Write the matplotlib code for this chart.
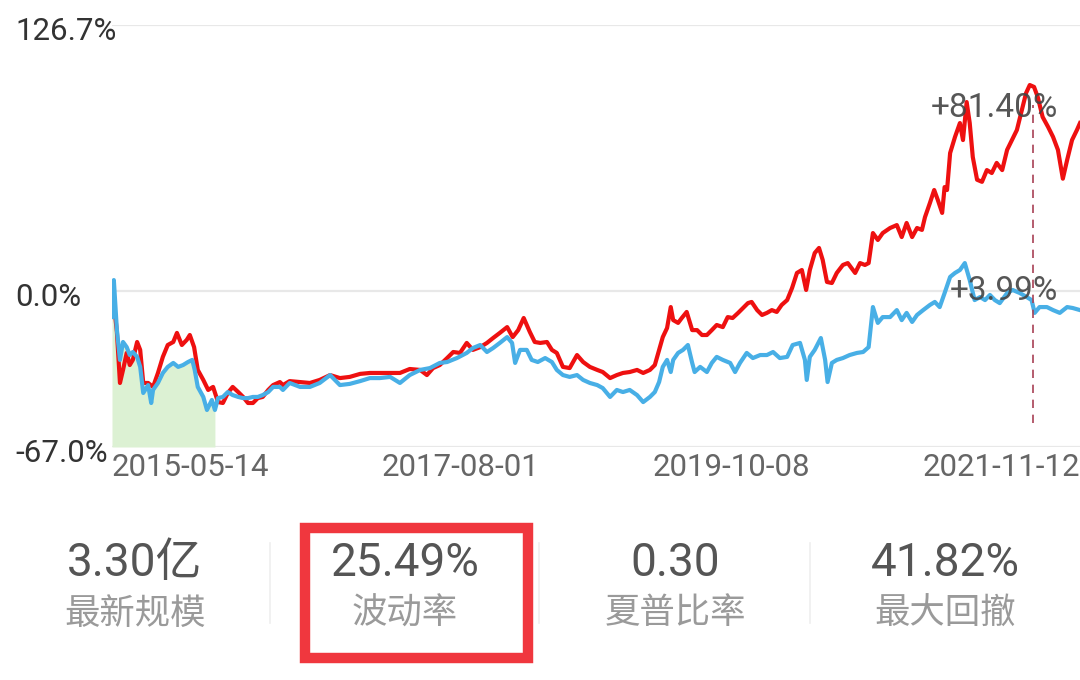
import numpy as np
import matplotlib
matplotlib.use("Agg")
import matplotlib.pyplot as plt
import matplotlib.transforms as mtransforms
from matplotlib.patches import Rectangle

plt.rcParams['font.family'] = ['Roboto', 'Noto Sans CJK SC', 'DejaVu Sans']

# 1. Dane (dzien handlowy, zwrot w %)
fund_days = [0, 3, 8, 13, 18, 24, 29, 34, 41, 46, 51, 59, 67, 75, 83, 91, 100, 106, 114, 122,
             127, 134, 140, 149, 157, 165, 173, 181, 189, 197, 206, 214, 222, 230, 238, 246, 255, 263, 274, 279,
             290, 307, 323, 339, 356, 372, 388, 405, 421, 437, 454, 470, 486, 503, 514, 524, 535, 547, 557, 568,
             579, 589, 601, 612, 622, 633, 645, 654, 663, 672, 682, 690, 699, 710, 718, 726, 736, 747, 759, 769,
             780, 792, 801, 813, 824, 834, 845, 857, 867, 878, 886, 893, 899, 906, 912, 916, 924, 930, 938, 947,
             955, 963, 971, 979, 987, 997, 1005, 1013, 1022, 1030, 1038, 1044, 1053, 1061, 1069, 1077, 1085, 1093, 1102, 1110,
             1118, 1126, 1133, 1139, 1147, 1154, 1160, 1167, 1175, 1183, 1193, 1201, 1213, 1221, 1229, 1235, 1242, 1250, 1258, 1270,
             1281, 1289, 1297, 1306, 1314, 1322, 1327, 1335, 1342, 1348, 1355, 1359, 1363, 1368, 1373, 1376, 1384, 1389, 1395, 1400,
             1405, 1412, 1420, 1428, 1436, 1444, 1453, 1461, 1469, 1477, 1485, 1492, 1498, 1505, 1511, 1519, 1528, 1536, 1544, 1552,
             1559, 1567, 1575, 1580]
fund_ret = [-8.2, -5.2, -17.6, -39.5, -33.9, -26.6, -31.8, -29.6, -21.9, -25.3, -39.5, -39.5, -41.2, -35.2, -28.3, -23.2, -21.9, -18.0, -23.2, -21.0,
            -18.9, -24.1, -33.9, -38.2, -42.5, -41.2, -47.7, -48.1, -43.8, -41.2, -43.4, -45.5, -48.1, -48.1, -46.0, -45.5, -42.5, -40.4, -39.1, -40.4,
            -38.7, -39.1, -39.5, -38.2, -36.1, -37.4, -36.9, -35.6, -35.2, -35.2, -35.2, -35.2, -33.5, -33.9, -36.1, -33.1, -31.8, -28.8, -26.2, -26.6,
            -22.3, -25.3, -24.1, -22.3, -20.2, -18.0, -15.5, -19.8, -16.8, -11.6, -17.6, -21.9, -22.3, -21.9, -25.3, -26.6, -32.6, -33.1, -27.5, -30.5,
            -32.6, -33.9, -34.8, -37.4, -36.1, -35.2, -34.8, -33.9, -35.2, -33.9, -31.8, -25.3, -19.8, -15.9, -6.9, -12.5, -13.7, -11.6, -9.0, -16.8,
            -16.8, -18.9, -18.9, -16.8, -14.6, -15.5, -11.2, -11.6, -9.4, -7.3, -5.2, -4.7, -8.2, -10.3, -9.4, -8.2, -9.0, -6.0, -3.9, 1.4,
            8.6, 10.0, 0.5, 10.0, 18.1, 20.5, 14.8, 4.3, 3.8, 8.6, 12.4, 13.3, 8.6, 13.3, 12.4, 13.3, 27.6, 24.3, 27.6, 30.0,
            31.4, 25.7, 32.4, 25.7, 30.0, 29.1, 35.2, 41.9, 48.1, 43.3, 37.2, 49.5, 48.1, 65.7, 70.5, 73.4, 80.0, 71.9, 90.0, 80.0,
            63.8, 53.0, 52.0, 57.6, 56.2, 61.0, 57.6, 67.2, 71.9, 76.7, 86.2, 94.3, 98.1, 97.2, 92.4, 82.9, 78.1, 73.4, 67.2, 53.5,
            62.4, 71.9, 76.7, 80.0]

bench_days = [0, 3, 8, 13, 18, 24, 29, 34, 41, 46, 51, 59, 64, 67, 75, 83, 91, 100, 108, 116,
              124, 131, 135, 140, 149, 155, 163, 168, 173, 181, 189, 197, 206, 214, 222, 230, 238, 246, 255, 263,
              274, 279, 290, 307, 323, 339, 356, 372, 388, 405, 421, 437, 454, 470, 486, 503, 519, 535, 547, 563,
              579, 589, 601, 612, 622, 633, 645, 653, 658, 666, 677, 685, 695, 707, 718, 726, 736, 747, 759, 769,
              780, 792, 801, 813, 824, 834, 845, 857, 867, 878, 886, 893, 899, 906, 912, 916, 924, 932, 940, 947,
              951, 960, 971, 979, 987, 997, 1009, 1017, 1025, 1036, 1046, 1058, 1069, 1079, 1090, 1102, 1111, 1123, 1131, 1134,
              1139, 1147, 1157, 1164, 1168, 1175, 1183, 1193, 1204, 1216, 1226, 1235, 1242, 1250, 1258, 1270, 1281, 1289, 1297, 1306,
              1314, 1324, 1335, 1343, 1351, 1359, 1368, 1376, 1384, 1392, 1400, 1408, 1417, 1425, 1433, 1441, 1449, 1461, 1470, 1482,
              1493, 1501, 1506, 1514, 1526, 1536, 1547, 1559, 1568, 1580]
bench_ret = [-11.2, 5.2, -16.8, -29.6, -21.9, -24.1, -27.5, -26.2, -28.3, -32.6, -43.8, -40.4, -48.1, -42.5, -39.5, -35.2, -32.6, -30.9, -32.6, -31.8,
             -30.5, -29.6, -33.9, -41.2, -45.5, -51.1, -46.8, -51.1, -46.0, -45.5, -43.4, -44.7, -45.5, -46.0, -46.0, -45.5, -45.5, -44.7, -43.4, -41.2,
             -41.2, -42.5, -39.5, -41.2, -41.2, -39.5, -36.1, -40.4, -39.9, -38.7, -37.4, -37.4, -36.9, -39.5, -36.1, -33.9, -33.1, -30.9, -30.5, -28.8,
             -26.6, -24.5, -23.2, -26.2, -24.5, -22.3, -19.8, -22.3, -30.9, -25.3, -25.3, -29.6, -30.5, -28.8, -30.5, -33.9, -36.1, -36.9, -36.1, -38.2,
             -39.5, -40.4, -41.7, -45.5, -42.5, -43.4, -42.5, -44.7, -47.7, -45.5, -43.4, -39.1, -32.6, -29.6, -34.8, -29.6, -26.6, -25.3, -23.2, -30.9,
             -34.8, -32.6, -34.8, -30.9, -28.3, -29.6, -30.9, -34.8, -30.9, -26.6, -28.8, -27.5, -27.5, -26.2, -28.8, -28.3, -23.2, -22.3, -29.6, -38.2,
             -28.3, -25.3, -20.2, -29.6, -39.1, -30.9, -29.6, -28.8, -27.5, -26.6, -26.2, -24.1, -6.9, -13.7, -11.2, -11.2, -8.2, -12.5, -9.4, -13.3,
             -10.3, -8.2, -6.0, -4.7, -6.9, -0.9, 6.7, 8.6, 10.0, 13.3, 5.2, -3.9, -2.6, -3.9, -1.7, -3.9, -5.2, -0.9, 0.5, -0.9,
             -2.6, -3.9, -9.4, -6.9, -6.9, -8.2, -9.4, -6.9, -7.3, -8.2]

y_max, y_zero, y_min = 126.7, 0.0, -67.0
ytick_labels = ["126.7%", "0.0%", "-67.0%"]
xtick_labels = ["2015-05-14", "2017-08-01", "2019-10-08", "2021-11-12"]
drawdown_end_day = 168
peak_day = 1503
fund_note = "+81.40%"
bench_note = "+3.99%"

stat_values = ["3.30亿", "25.49%", "0.30", "41.82%"]
stat_names = ["最新规模", "波动率", "夏普比率", "最大回撤"]

# 2. Os Y: osobna skala powyzej i ponizej zera (jak w aplikacji)
def fwd(v):
    v = np.asarray(v, dtype=float)
    return np.where(v >= 0, v / y_max * 266.0, v / -y_min * 156.0)

def inv(p):
    p = np.asarray(p, dtype=float)
    return np.where(p >= 0, p / 266.0 * y_max, p / 156.0 * -y_min)

W, H = 1080, 680
fig = plt.figure(figsize=(W / 100, H / 100), dpi=100)
ax = fig.add_axes([112 / W, (H - 447) / H, 968 / W, 422 / H])
ax.set_yscale('function', functions=(fwd, inv))
ax.set_ylim(y_min, y_max)
ax.set_xlim(fund_days[0], fund_days[-1])

for s in ax.spines.values():
    s.set_visible(False)

for yv in (y_max, y_zero, y_min):
    ax.axhline(yv, color='#e8e8e8', lw=1.6, zorder=0)

# obszar maksymalnego spadku
bd = np.array(bench_days)
br = np.array(bench_ret)
m = bd <= drawdown_end_day
ax.fill_between(bd[m], br[m], y_min, color='#dcf1d3', lw=0, zorder=1)

ax.plot(fund_days, fund_ret, color='#ee1010', lw=3.0, zorder=3)
ax.plot(bench_days, bench_ret, color='#48afe6', lw=3.0, zorder=4)

ax.vlines(peak_day, -56.7, 88.6, colors='#a84155', lw=1.2,
          linestyles=(0, (5, 4)), zorder=5)
ax.text(1440, 87.0, fund_note, fontsize=24, color='#444444', ha='center',
        va='center', alpha=0.9, zorder=6)
ax.text(1456, 0.0, bench_note, fontsize=24, color='#444444', ha='center',
        va='center', alpha=0.9, zorder=6)

# etykiety osi Y
ytrans = mtransforms.offset_copy(ax.get_yaxis_transform(), fig=fig, y=-6, units='dots')
for yv, lab in zip((y_max, y_zero, y_min), ytick_labels):
    ax.text(-97 / 968, yv, lab, transform=ytrans, fontsize=22.5, color='#333333',
            ha='left', va='center', clip_on=False, zorder=7)

# etykiety osi X rozlozone rowno (jak flexbox space-between)
w = 157 / 968
span = fund_days[-1] - fund_days[0]
xt = [fund_days[0] + span * (w / 2 + i * (1 - w) / 3) for i in range(4)]
ax.set_xticks(xt)
ax.set_xticklabels(xtick_labels, fontsize=22.5, color='#666666')
ax.tick_params(axis='x', length=0, pad=4)
ax.set_yticks([])
ax.yaxis.set_minor_locator(matplotlib.ticker.NullLocator())

# 3. Panel statystyk
centers = [135, 405, 675, 945]
for cx, val, name in zip(centers, stat_values, stat_names):
    fig.text(cx / W, 1 - 563 / H, val, fontsize=33, color='#555555',
             ha='center', va='center')
    fig.text(cx / W, 1 - 614 / H, name, fontsize=25.5, color='#9a9a9a',
             ha='center', va='center')

for sx in (270, 539, 810):
    fig.add_artist(plt.Line2D([sx / W, sx / W], [1 - 543 / H, 1 - 623 / H],
                              color='#efefef', lw=1.2))

fig.add_artist(Rectangle((305 / W, 1 - 658 / H), 223 / W, 130 / H,
                         fill=False, edgecolor='#f0373e', lw=7.5,
                         transform=fig.transFigure))

plt.savefig("out.png", dpi=100)
